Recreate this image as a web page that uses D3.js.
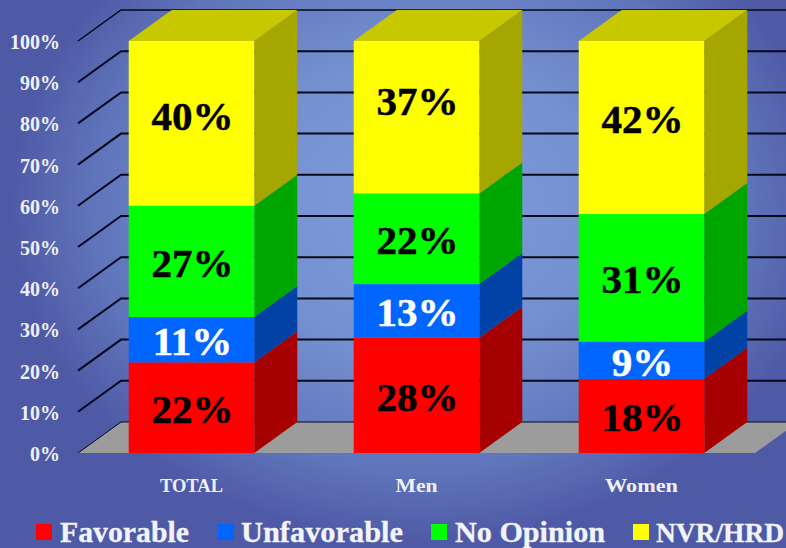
<!DOCTYPE html>
<html><head><meta charset="utf-8">
<script src="https://cdn.jsdelivr.net/npm/d3@7/dist/d3.min.js"></script>
<style>html,body{margin:0;padding:0;overflow:hidden;background:#4f5aa6}svg{display:block}
text{font-family:"Liberation Serif",serif;font-weight:bold}</style></head><body>
<svg id="c" width="786" height="548"></svg>
<script>
const categories = ["TOTAL","Men","Women"];
const seriesNames = ["Favorable","Unfavorable","No Opinion","NVR/HRD"];
const favorable = [22,28,18];
const unfavorable = [11,13,9];
const noOpinion = [27,22,31];
const nvrHrd = [40,37,42];
const tickValues = [0,10,20,30,40,50,60,70,80,90,100];

const frontColors = ["#ff0000","#0066ff","#00ff00","#ffff00"];
const sideColors  = ["#a60000","#0042a6","#00a600","#a6a600"];
const topColor = "#c8c800";
const dx = 43, dy = -31;

const rows = categories.map((c,i)=>({cat:c,"Favorable":favorable[i],"Unfavorable":unfavorable[i],"No Opinion":noOpinion[i],"NVR/HRD":nvrHrd[i]}));
const stacked = d3.stack().keys(seriesNames)(rows);
const y = d3.scaleLinear().domain([0,100]).range([453,41]);
const x = d3.scaleBand().domain(categories).range([78,755]).paddingInner(0.442).paddingOuter(0.2255);
const svg = d3.select("#c");
const defs = svg.append("defs");
const g = defs.append("radialGradient").attr("id","bg").attr("gradientUnits","userSpaceOnUse")
  .attr("cx",0).attr("cy",0).attr("r",1)
  .attr("gradientTransform","translate(420,205) scale(410,335)");
[[0,"#7f9bdb"],[0.45,"#7490d0"],[0.8,"#5f74ba"],[1,"#4f5aa6"]].forEach(s=>g.append("stop").attr("offset",s[0]).attr("stop-color",s[1]));
svg.append("rect").attr("width",786).attr("height",548).attr("fill","#4f5aa6");
svg.append("rect").attr("width",786).attr("height",548).attr("fill","url(#bg)");

const poly = pts => pts.map(p=>p.join(",")).join(" ");
// floor
svg.append("polygon").attr("points",poly([[x.range()[0],y(0)],[x.range()[0]+dx,y(0)+dy],[x.range()[1]+dx,y(0)+dy],[x.range()[1],y(0)]])).attr("fill","#9c9c9c");
// gridlines
const grid = svg.append("g").attr("fill","none").attr("stroke","#05081a");
tickValues.forEach(t=>{
  grid.append("polyline").attr("points",poly([[x.range()[0],y(t)],[x.range()[0]+dx,y(t)+dy],[786,y(t)+dy]])).attr("stroke-width",t===100?1.5:t===0?1:2);
});
// tick labels
svg.append("g").selectAll("text").data(tickValues).join("text")
  .attr("x",60).attr("y",d=>y(d)+8).attr("text-anchor","end").attr("fill","#eef1fb")
  .style("font-size","20px").text(d=>d+"%");
// bars
stacked.forEach((s,si)=>{
  const gs = svg.append("g");
  s.forEach(d=>{
    const x0=x(d.data.cat), x1=x0+x.bandwidth(), yb=y(d[0]), yt=y(d[1]);
    gs.append("polygon").attr("points",poly([[x1,yb],[x1+dx,yb+dy],[x1+dx,yt+dy],[x1,yt]])).attr("fill",sideColors[si]);
    gs.append("rect").attr("x",x0).attr("y",yt).attr("width",x.bandwidth()).attr("height",yb-yt).attr("fill",frontColors[si]);
    if(si===3) gs.append("polygon").attr("points",poly([[x0,yt],[x0+dx,yt+dy],[x1+dx,yt+dy],[x1,yt]])).attr("fill",topColor);
  });
});
// data labels
const nudge = {"TOTAL":-9,"Men":-18,"Women":-10};
stacked.forEach((s,si)=>{
  svg.append("g").selectAll("text").data(s).join("text")
    .attr("x",d=>x(d.data.cat)+x.bandwidth()/2+1)
    .attr("y",d=>(y(d[0])+y(d[1]))/2+1+(si===3?nudge[d.data.cat]:0))
    .attr("dy","0.35em").attr("text-anchor","middle")
    .attr("fill",si===1?"#ffffff":"#000000")
    .attr("stroke",si===1?"#ffffff":"#000000").attr("stroke-width",0.5)
    .style("font-size","41px")
    .text(d=>(d[1]-d[0])+"%");
});
// category labels
const catWidths = [63,42,73];
svg.append("g").selectAll("text").data(categories).join("text")
  .attr("x",d=>x(d)+x.bandwidth()/2).attr("y",492).attr("text-anchor","middle").attr("fill","#eef1fb")
  .attr("textLength",(d,i)=>catWidths[i]).attr("lengthAdjust","spacingAndGlyphs")
  .style("font-size","19px").text(d=>d);
// legend
const legendBoxX = [36,218,431,633], legendTextX = [60,241,455,656], legendWidths = [129,162,150,128];
const legend = svg.append("g").selectAll("g").data(seriesNames).join("g");
legend.append("rect").attr("x",(d,i)=>legendBoxX[i]).attr("y",524).attr("width",16).attr("height",16).attr("fill",(d,i)=>frontColors[i]);
legend.append("text").attr("x",(d,i)=>legendTextX[i]).attr("y",542).attr("fill","#f2f4fc")
  .attr("stroke","#f2f4fc").attr("stroke-width",0.3)
  .attr("textLength",(d,i)=>legendWidths[i]).attr("lengthAdjust","spacingAndGlyphs")
  .style("font-size",(d,i)=>i===3?"28px":"30px").text(d=>d);
</script></body></html>
